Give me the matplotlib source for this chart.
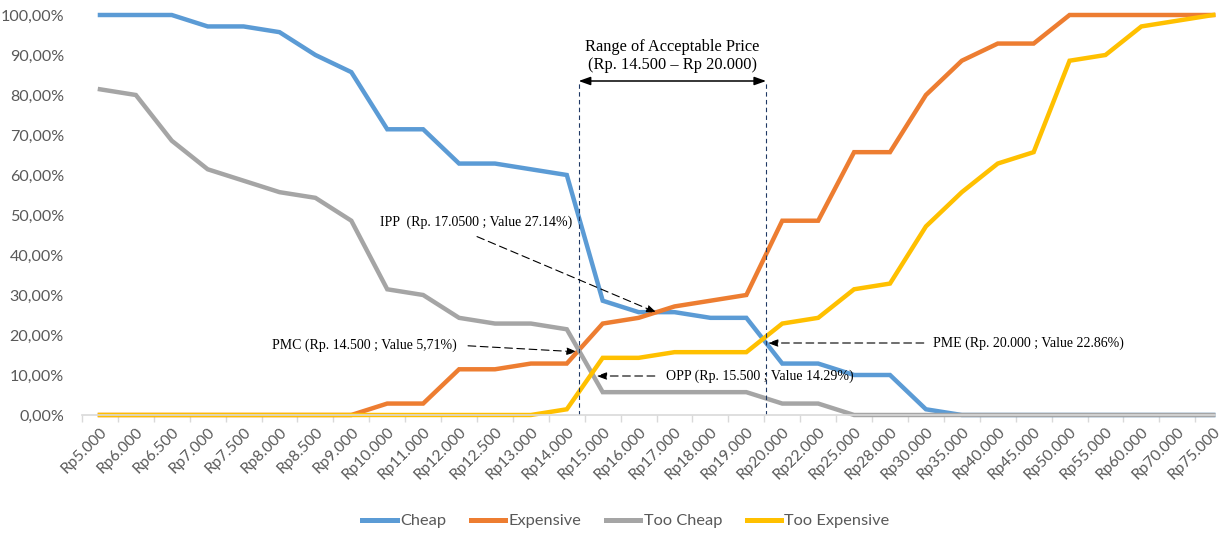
import numpy as np
import matplotlib
matplotlib.use("Agg")
import matplotlib.pyplot as plt
from matplotlib.ticker import FixedLocator, FuncFormatter

# price points (category axis)
prices = ["Rp5.000", "Rp6.000", "Rp6.500", "Rp7.000", "Rp7.500", "Rp8.000", "Rp8.500",
          "Rp9.000", "Rp10.000", "Rp11.000", "Rp12.000", "Rp12.500", "Rp13.000", "Rp14.000",
          "Rp15.000", "Rp16.000", "Rp17.000", "Rp18.000", "Rp19.000", "Rp20.000", "Rp22.000",
          "Rp25.000", "Rp28.000", "Rp30.000", "Rp35.000", "Rp40.000", "Rp45.000", "Rp50.000",
          "Rp55.000", "Rp60.000", "Rp70.000", "Rp75.000"]

# cumulative shares in %
cheap = [100, 100, 100, 97.14, 97.14, 95.71, 90.0, 85.71, 71.43, 71.43, 62.86, 62.86,
         61.43, 60.0, 28.57, 25.71, 25.71, 24.29, 24.29, 12.86, 12.86, 10.0, 10.0, 1.43,
         0, 0, 0, 0, 0, 0, 0, 0]
expensive = [0, 0, 0, 0, 0, 0, 0, 0, 2.86, 2.86, 11.43, 11.43, 12.86, 12.86, 22.86, 24.29,
             27.14, 28.57, 30.0, 48.57, 48.57, 65.71, 65.71, 80.0, 88.57, 92.86, 92.86,
             100, 100, 100, 100, 100]
too_cheap = [81.43, 80.0, 68.57, 61.43, 58.57, 55.71, 54.29, 48.57, 31.43, 30.0, 24.29,
             22.86, 22.86, 21.43, 5.71, 5.71, 5.71, 5.71, 5.71, 2.86, 2.86, 0, 0, 0,
             0, 0, 0, 0, 0, 0, 0, 0]
too_expensive = [0, 0, 0, 0, 0, 0, 0, 0, 0, 0, 0, 0, 0, 1.43, 14.29, 14.29, 15.71, 15.71,
                 15.71, 22.86, 24.29, 31.43, 32.86, 47.14, 55.71, 62.86, 65.71, 88.57,
                 90.0, 97.14, 98.57, 100]

series = [("Cheap", cheap, "#5b9bd5"),
          ("Expensive", expensive, "#ed7d31"),
          ("Too Cheap", too_cheap, "#a5a5a5"),
          ("Too Expensive", too_expensive, "#ffc000")]

W, H = 1224, 534
fig = plt.figure(figsize=(W / 100, H / 100), dpi=100)
ax = fig.add_axes([82 / W, 1 - 415 / H, (1215 - 82) / W, 400 / H])

x = np.arange(len(prices))
for name, vals, col in series:
    ax.plot(x, vals, color=col, lw=3.2, label=name, solid_joinstyle="miter", clip_on=False)

ax.set_xlim(-0.5, 31.05)
ax.set_ylim(0, 100)

for s in ["top", "right", "left"]:
    ax.spines[s].set_visible(False)
ax.spines["bottom"].set_color("#d9d9d9")
ax.spines["bottom"].set_linewidth(1.2)

ax.set_xticks(x)
ax.set_xticklabels(prices, rotation=45, ha="right", va="top", rotation_mode="anchor",
                   fontsize=11.2, color="#595959", family="Lato")
ax.tick_params(axis="x", which="major", length=0, pad=7)
ax.xaxis.set_minor_locator(FixedLocator(np.arange(-0.5, 31, 1.0)))
ax.tick_params(axis="x", which="minor", length=5, color="#d9d9d9", width=1)

ax.set_yticks(np.arange(0, 101, 10))
ax.yaxis.set_major_formatter(FuncFormatter(lambda v, p: f"{v:.2f}".replace(".", ",") + "%"))
ax.tick_params(axis="y", length=0, pad=13, labelsize=11.6, labelcolor="#595959")
for t in ax.get_yticklabels():
    t.set_family("Lato")

# acceptable price range
serif = "Liberation Serif"
lo, hi = 13.33, 18.55
for xv in (lo, hi):
    ax.plot([xv, xv], [0, 83.5], color="#1f3864", lw=0.8, ls=(0, (4, 3)))
ax.annotate("", xy=(lo, 83.5), xytext=(hi, 83.5),
            arrowprops=dict(arrowstyle="<|-|>,head_length=0.7,head_width=0.25",
                            color="black", lw=1.1, shrinkA=0, shrinkB=0))
ax.text((lo + hi) / 2, 85.4, "Range of Acceptable Price\n(Rp. 14.500 \u2013 Rp 20.000)",
        ha="center", va="bottom", fontsize=11.8, family=serif, linespacing=1.2)

arrow_kw = dict(arrowstyle="-|>,head_length=0.6,head_width=0.22", color="black",
                lw=0.8, ls=(0, (7, 4)), shrinkA=0, shrinkB=0)

ax.text(7.79, 48.25, "IPP  (Rp. 17.0500 ; Value 27.14%)", ha="left", va="center",
        fontsize=10, family=serif)
ax.annotate("", xy=(15.5, 25.6), xytext=(10.5, 44.6), arrowprops=arrow_kw)

ax.text(4.78, 17.5, "PMC (Rp. 14.500 ; Value 5,71%)", ha="left", va="center",
        fontsize=10, family=serif)
ax.annotate("", xy=(13.28, 15.8), xytext=(10.25, 17.3), arrowprops=arrow_kw)

ax.text(15.75, 9.6, "OPP (Rp. 15.500 ; Value 14.29%)", ha="left", va="center",
        fontsize=10, family=serif)
ax.annotate("", xy=(13.83, 9.75), xytext=(15.45, 9.75), arrowprops=arrow_kw)

ax.text(23.19, 18.0, "PME (Rp. 20.000 ; Value 22.86%)", ha="left", va="center",
        fontsize=10, family=serif)
ax.annotate("", xy=(18.6, 18.0), xytext=(22.94, 18.0), arrowprops=arrow_kw)

leg = fig.legend(loc="center", bbox_to_anchor=(626 / W, 1 - 521 / H), ncol=4,
                 frameon=False, handlelength=2.1, columnspacing=1.5, handletextpad=0.2,
                 prop=dict(family="Lato", size=11.8))
for line in leg.get_lines():
    line.set_linewidth(3.6)
for t in leg.get_texts():
    t.set_color("#595959")

fig.savefig("out.png", dpi=100)
